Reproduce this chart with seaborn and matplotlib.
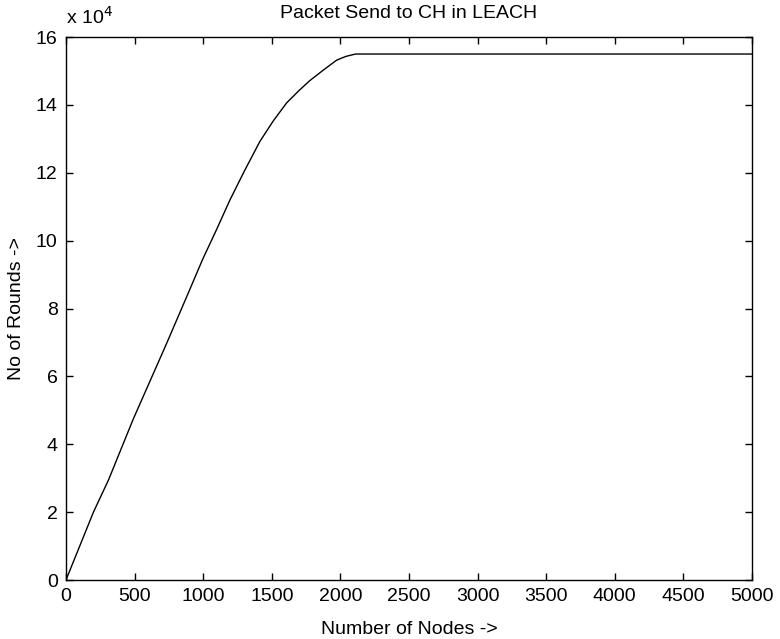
import matplotlib
matplotlib.use("Agg")
import matplotlib.pyplot as plt
import matplotlib.ticker as mticker
import seaborn as sns
import pandas as pd

# Data
nodes = [0, 200, 310, 490, 730, 880, 996, 1100, 1195, 1300, 1414, 1511,
         1608, 1700, 1778, 1880, 1973, 2040, 2110, 5000]
rounds = [0, 20000, 29500, 47400, 69400, 83500, 94500, 103500, 112000,
          120500, 129300, 135300, 140600, 144300, 147200, 150400, 153200,
          154300, 155000, 155000]
x_ticks = [0, 500, 1000, 1500, 2000, 2500, 3000, 3500, 4000, 4500, 5000]
y_ticks = [0, 20000, 40000, 60000, 80000, 100000, 120000, 140000, 160000]

df = pd.DataFrame({"nodes": nodes, "rounds": rounds})

sns.set_style("ticks")
plt.rcParams["font.family"] = ["Liberation Sans", "DejaVu Sans"]
plt.rcParams["text.color"] = "black"
plt.rcParams["axes.labelcolor"] = "black"

fig = plt.figure(figsize=(7.8, 6.39), dpi=100)
ax = fig.add_axes([0.0846, 0.0923, 0.8795, 0.8497])

sns.lineplot(data=df, x="nodes", y="rounds", ax=ax, color="black",
             linewidth=1.0, estimator=None, sort=False)

ax.set_xlim(0, 5000)
ax.set_ylim(0, 160000)
ax.set_xticks(x_ticks)
ax.set_yticks(y_ticks)
ax.yaxis.set_major_formatter(mticker.FuncFormatter(lambda v, p: f"{v/1e4:g}"))
ax.tick_params(direction="in", length=5, width=1, top=True, right=True,
               labelsize=14, colors="black", pad=6)
for s in ax.spines.values():
    s.set_visible(True)
    s.set_linewidth(1.0)
    s.set_color("black")

ax.set_xlabel("Number of Nodes ->", fontsize=14, labelpad=11, color="black")
ax.set_ylabel("No of Rounds ->", fontsize=14, labelpad=8, color="black")
ax.set_title("Packet Send to CH in LEACH", fontsize=14, pad=14, color="black")
ax.annotate(r"x 10$^{4}$", xy=(0, 1), xycoords="axes fraction",
            xytext=(0, 7), textcoords="offset points", fontsize=14,
            ha="left", va="bottom", color="black")

fig.savefig("out.png", dpi=100, facecolor="white")
